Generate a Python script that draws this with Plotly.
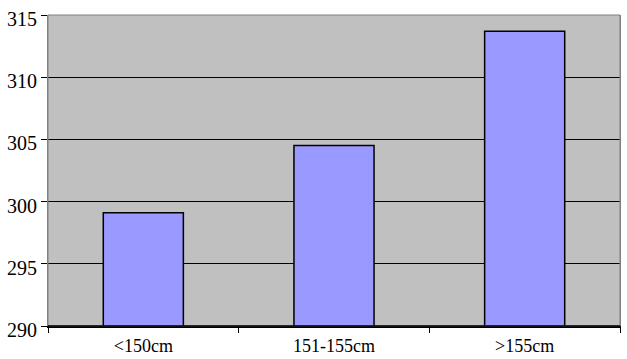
import plotly.graph_objects as go

categories = ["<150cm", "151-155cm", ">155cm"]
values = [299.1, 304.5, 313.7]
y_ticks = [290, 295, 300, 305, 310, 315]

FONT = "Times New Roman, Liberation Serif, serif"

fig = go.Figure(go.Bar(
    x=categories, y=values,
    marker=dict(color="#9999FF", line=dict(color="#000000", width=1.5)),
    width=0.42,
))

fig.update_layout(
    width=627, height=359,
    margin=dict(l=48, r=7, t=15, b=33),
    paper_bgcolor="white",
    plot_bgcolor="#C0C0C0",
    font=dict(family=FONT, size=16, color="black"),
    showlegend=False,
)
fig.update_xaxes(
    showline=True, linecolor="#000000", linewidth=1.5, mirror=False,
    ticks="outside", tickson="boundaries", ticklen=5, tickcolor="black",
    showgrid=False, tickfont=dict(family=FONT, size=18),
    automargin=False, ticklabelstandoff=3,
)
fig.update_yaxes(
    range=[290, 315], tickvals=y_ticks,
    showline=True, linecolor="#808080", linewidth=1, mirror=True,
    ticks="outside", ticklen=6, tickcolor="black",
    showgrid=True, gridcolor="#000000", gridwidth=1,
    zeroline=False, tickfont=dict(family=FONT, size=20),
    automargin=False, ticklabelstandoff=0, ticklabelshift=4,
)
fig.add_shape(type="rect", xref="paper", yref="paper", x0=0, y0=0, x1=1, y1=1,
              line=dict(color="#808080", width=1), layer="above")
fig.add_shape(type="line", xref="paper", yref="paper", x0=0, y0=0, x1=1, y1=0,
              line=dict(color="#000000", width=1.5), layer="above")

fig.write_html("out.html", post_script="document.body.style.margin='0px';",
               config={"displayModeBar": False})
